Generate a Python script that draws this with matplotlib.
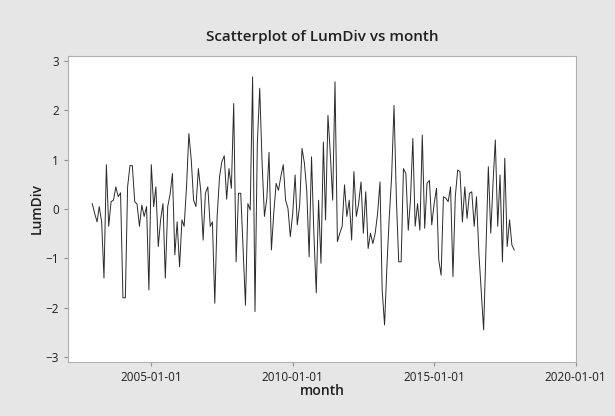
import matplotlib
matplotlib.use("Agg")
import matplotlib.pyplot as plt
import matplotlib.dates as mdates
import pandas as pd

# monthly LumDiv values (Dec 2002 onwards)
lumdiv = [
    0.11, -0.09, -0.26, 0.05, -0.26, -1.40, 0.90, -0.35, 0.15,
    0.18, 0.45, 0.25, 0.33, -1.80, -1.80, 0.45, 0.88, 0.88, 0.15,
    0.10, -0.35, 0.08, -0.15, 0.05, -1.64, 0.90, 0.05, 0.45, -0.76,
    -0.22, 0.11, -1.40, 0.05, 0.30, 0.72, -0.93, -0.26, -1.17, -0.22,
    -0.35, 0.45, 1.53, 1.00, 0.18, 0.05, 0.82, 0.38, -0.63, 0.32,
    0.45, -0.35, -0.26, -1.91, -0.15, 0.65, 0.96, 1.08, 0.20, 0.82,
    0.42, 2.14, -1.07, 0.32, 0.32, -0.83, -1.95, 0.11, -0.02, 2.68,
    -2.08, 1.33, 2.45, 0.96, -0.15, 0.22, 1.15, -0.83, -0.09, 0.52,
    0.38, 0.66, 0.90, 0.18, 0.01, -0.56, -0.09, 0.69, -0.32, 0.08,
    1.23, 0.93, 0.38, -0.97, 1.06, -0.49, -1.70, 0.18, -1.10,
    1.36, -0.22, 1.90, 1.13, 0.18, 2.58, -0.66, -0.49, -0.35, 0.49,
    -0.15, 0.18, -0.63, 0.76, -0.15, 0.11, 0.55, -0.49, 0.35, -0.80,
    -0.49, -0.70, -0.49, -0.09, 0.55, -1.64, -2.35, -1.17, -0.15,
    0.65, 2.10, 0.18, -1.07, -1.07, 0.82, 0.72, -0.43, 0.18, 1.43,
    -0.35, 0.11, -0.43, 1.50, -0.39, 0.52, 0.58, -0.32, 0.11,
    0.42, -1.03, -1.34, 0.25, 0.22, 0.15, 0.45, -1.37, 0.25, 0.79,
    0.76, -0.26, 0.45, -0.19, 0.32, 0.35, -0.35, 0.25, -0.90, -1.70,
    -2.45, -0.76, 0.86, -0.49, 0.58, 1.40, -0.35, 0.69, -1.07, 1.03,
    -0.76, -0.22, -0.73, -0.83,
]
month = pd.date_range(start="2002-12-01", periods=len(lumdiv), freq="MS")

tick_dates = pd.to_datetime(["2005-01-01", "2010-01-01", "2015-01-01", "2020-01-01"])
y_ticks = [-3, -2, -1, 0, 1, 2, 3]

fig = plt.figure(figsize=(6.15, 4.16), dpi=100)
fig.patch.set_facecolor("#e6e6e6")
ax = fig.add_axes([0.111, 0.130, 0.826, 0.735])
ax.set_facecolor("white")

ax.plot(month, lumdiv, color="#2a2a2a", linewidth=0.7)

ax.set_xlim(pd.Timestamp("2002-01-25"), pd.Timestamp("2020-01-10"))
ax.set_ylim(-3.1, 3.1)
ax.set_xticks(tick_dates)
ax.xaxis.set_major_formatter(mdates.DateFormatter("%Y-%m-%d"))
ax.set_yticks(y_ticks)

for s in ax.spines.values():
    s.set_color("#b0b0b0")
    s.set_linewidth(0.8)
ax.tick_params(axis="both", direction="out", length=3, width=0.8,
               color="#909090", labelsize=8.5, labelcolor="#202020")

ax.set_title("Scatterplot of LumDiv vs month", fontsize=11, fontweight="semibold",
             fontfamily="Open Sans", color="#202020", pad=11)
ax.set_xlabel("month", fontsize=10, fontweight="semibold", fontfamily="Open Sans",
              color="#202020", labelpad=0)
ax.set_ylabel("LumDiv", fontsize=10, fontweight="semibold", fontfamily="Open Sans",
              color="#202020", labelpad=1)
for lab in ax.get_xticklabels() + ax.get_yticklabels():
    lab.set_fontfamily("Open Sans")

fig.savefig("out.png", dpi=100, facecolor=fig.get_facecolor())
